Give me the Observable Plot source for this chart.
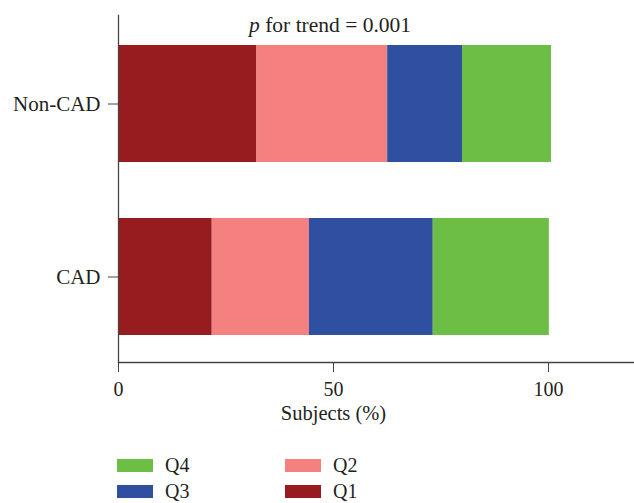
<!DOCTYPE html>
<html>
<head>
<meta charset="utf-8">
<script src="https://cdn.jsdelivr.net/npm/d3@7"></script>
<script src="https://cdn.jsdelivr.net/npm/@observablehq/plot@0.6"></script>
<style>
  html, body { margin: 0; padding: 0; background: #fff; }
  #wrap { width: 634px; font-family: "Liberation Serif", "DejaVu Serif", serif; color: #231f20; }
  #legend { position: relative; height: 63px; font-size: 20px; }
  .item { position: absolute; display: flex; align-items: center; height: 20px; }
  .sw { width: 36px; height: 13px; margin-right: 12px; }
</style>
</head>
<body>
<div id="wrap"><div id="chart"></div><div id="legend"></div></div>
<script>
const groups = ["Non-CAD", "CAD"];
const quartiles = ["Q1", "Q2", "Q3", "Q4"];
const quartileColors = ["#961c1f", "#f48080", "#2f50a1", "#6dbe45"];
const nonCadValues = [32.2, 30.4, 17.4, 20.7];
const cadValues = [21.8, 22.6, 28.8, 27.0];
const xTicks = [0, 50, 100];
const xLabel = "Subjects (%)";
const trendText = "p for trend = 0.001";
const legendColumns = [["Q4", "Q3"], ["Q2", "Q1"]];

const seriesByGroup = [nonCadValues, cadValues];
const data = groups.flatMap((g, i) =>
  quartiles.map((q, j) => ({group: g, quartile: q, value: seriesByGroup[i][j]}))
);

const chart = Plot.plot({
  width: 634,
  height: 440,
  marginLeft: 118,
  marginRight: 0,
  marginTop: 15,
  marginBottom: 78,
  style: {fontFamily: "'Liberation Serif', serif", fontSize: "20px", color: "#231f20", background: "#fff"},
  x: {domain: [0, 120]},
  y: {domain: groups, paddingInner: 0.3237, paddingOuter: 0.1647, align: 0.53},
  color: {domain: quartiles, range: quartileColors},
  marks: [
    Plot.barX(data, {x: "value", y: "group", fill: "quartile"}),
    Plot.frame({anchor: "left", stroke: "#444", strokeWidth: 1.3}),
    Plot.frame({anchor: "bottom", stroke: "#444", strokeWidth: 1.3}),
    Plot.axisX({ticks: xTicks, tickSize: 10, tickPadding: 9, label: null, stroke: "#444", fontSize: 20}),
    Plot.axisY({tickSize: 10, tickPadding: 8, label: null, stroke: "#444", fontSize: 21}),
    Plot.text([xLabel], {x: 50, frameAnchor: "bottom", dy: 57, text: d => d, fontSize: 20.5}),
    Plot.text([trendText], {x: 49.2, frameAnchor: "top", dy: 1.5, text: d => d, fontSize: 21.5})
  ]
});
document.getElementById("chart").appendChild(chart);

// italic "p" in trend label
d3.select(chart).selectAll("text").each(function() {
  if (this.textContent === trendText) {
    const t = d3.select(this);
    t.text(null);
    t.append("tspan").attr("font-style", "italic").text("p");
    t.append("tspan").text(trendText.slice(1));
  }
});

// legend
const legend = d3.select("#legend");
const colLeft = [117, 285];
legendColumns.forEach((col, ci) => {
  col.forEach((q, ri) => {
    const item = legend.append("div").attr("class", "item")
      .style("left", colLeft[ci] + "px")
      .style("top", (15 + ri * 26) + "px");
    item.append("div").attr("class", "sw")
      .style("background", quartileColors[quartiles.indexOf(q)]);
    item.append("span").text(q);
  });
});
</script>
</body>
</html>
